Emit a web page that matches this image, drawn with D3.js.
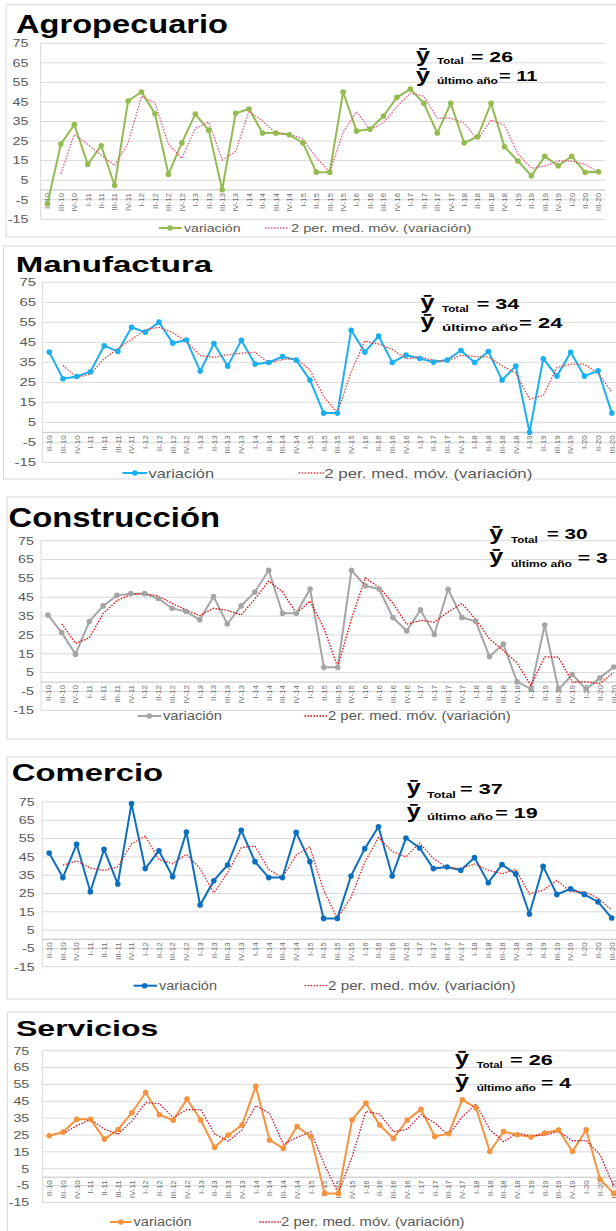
<!DOCTYPE html>
<html>
<head>
<meta charset="utf-8">
<script src="https://cdn.jsdelivr.net/npm/d3@7/dist/d3.min.js"></script>
<style>
  body { margin: 0; background: #fff; }
  svg { display: block; font-family: "Liberation Sans", Arial, sans-serif; }
</style>
</head>
<body>
<svg id="chart" width="616" height="1231"></svg>
<script>
// quarters on the category axis
var quarters = ["II-10", "III-10", "IV-10",
    "I-11", "II-11", "III-11", "IV-11",
    "I-12", "II-12", "III-12", "IV-12",
    "I-13", "II-13", "III-13", "IV-13",
    "I-14", "II-14", "III-14", "IV-14",
    "I-15", "II-15", "III-15", "IV-15",
    "I-16", "II-16", "III-16", "IV-16",
    "I-17", "II-17", "III-17", "IV-17",
    "I-18", "II-18", "III-18", "IV-18",
    "I-19", "II-19", "III-19", "IV-19",
    "I-20", "II-20", "III-20"];

// variación per sector
var agropecuario = [-7, 23.5, 33.4, 13.1, 22.6, 2.3, 45.5, 50.1, 39, 8.1, 24.1,
    38.8, 30.6, 0.1, 39.2, 41.4, 29.1, 29.1, 28.2, 24.1, 9.1, 9.1, 50.1,
    30.1, 31.1, 37.8, 47.4, 51.6, 44.3, 29.1, 44.3, 24.1, 27.2, 44.3, 22.1,
    14.8, 7.3, 17.2, 12.4, 17.2, 9, 9.3];
var manufactura = [40.1, 26.8, 27.9, 30.3, 43.3, 40.4, 52.5, 50, 55.1, 44.6, 46.1,
    30.6, 44.4, 33.1, 46, 34.1, 34.9, 37.9, 36.1, 26.1, 9.6, 9.6, 51,
    40.1, 48.1, 34.9, 38.6, 36.9, 35.1, 36.1, 40.9, 34.9, 40.4, 26.1, 33.1,
    0, 36.8, 28.1, 40, 28.1, 30.8, 9.6];
var construccion = [35.6, 26.2, 14.8, 32.1, 40.4, 46, 46.9, 46.9, 44.3, 39.1, 37.5,
    33, 45.3, 30.8, 40.4, 47.8, 59.3, 36.5, 36.5, 49.4, 7.8, 7.8, 59.3,
    51.1, 49.4, 34.2, 27.1, 38.3, 25.2, 49.2, 34.2, 32.2, 13.5, 20.1, 0.1,
    -3.6, 30.3, -4, 4, -3.8, 2.2, 8];
var comercio = [47.1, 33.7, 51.9, 26, 49.1, 30.2, 74.1, 38.6, 48.4, 34.2, 58.6,
    18.7, 32, 40.6, 59.5, 42.4, 33.7, 33.7, 58.4, 42.4, 11.4, 11.4, 34.6,
    49.5, 61.5, 34.6, 55.3, 49.9, 38.6, 39.5, 37.7, 44.6, 30.9, 40.8, 35.7,
    13.8, 39.8, 24.5, 27.6, 24.5, 20.4, 11.6];
var servicios = [24.6, 26.8, 34.4, 34.3, 22.6, 28.3, 38.2, 50.2, 37, 33.7, 46.3,
    33.9, 17.7, 25, 30.9, 53.9, 22, 17.1, 30.1, 24, -9.6, -9.6, 34.1,
    43.9, 30.9, 23, 33.9, 40.2, 24.2, 25.8, 45.9, 41.1, 15.2, 27, 25.2,
    23.8, 26.2, 28, 15.2, 28.1, -1.2, -9.6];

var sectorNames = ["Agropecuario", "Manufactura", "Construcción", "Comercio", "Servicios"];
var meanTotal = [26, 34, 30, 37, 26];
var meanLastYear = [11, 24, 3, 19, 4];
var yTicks = [75, 65, 55, 45, 35, 25, 15, 5, -5, -15];
var legendLabels = ["variación", "2 per. med. móv. (variación)"];

// where each pasted chart sits on the page
var panels = [
    { values: agropecuario, color: "#93bb4f", ma: "#e0577f",
      box: [6, 4.7, 237], title: [16, 32.5, 26, 212],
      plot: [40.7, 605.3, 43.3, 219.3], tickX: 28.5, tickSize: 11,
      legY: 228, legSize: 11.5, leg: [159, 181.5, 170, 184, 56.5, 265, 289, 291, 180.5],
      note: { yX: 416, y1: 62.3, y2: 81.7, subX: 437, sub1: 64, sub2: 83.5, subW: [26.6, 61],
              eq1: [471, 62, 42], eq2: [499, 81, 38.5] } },
    { values: manufactura, color: "#1aaff0", ma: "#e03c3c",
      box: [3.5, 246, 479], title: [15.7, 271.7, 22, 196.5],
      plot: [42.4, 618.7, 282.3, 462.3], tickX: 36, tickSize: 11.5,
      legY: 473, legSize: 13, leg: [122.6, 147.3, 134.8, 148.5, 65.5, 298.6, 324.2, 324.2, 208.2],
      note: { yX: 420.4, y1: 309, y2: 328.3, subX: 442, sub1: 311.7, sub2: 331, subW: [26.8, 76],
              eq1: [476.7, 309, 42.6], eq2: [519, 327.7, 43.4] } },
    { values: construccion, color: "#a5a5a5", ma: "#e00000",
      box: [7, 497, 739], title: [8.6, 526.7, 27, 211.4],
      plot: [41, 620.6, 540.7, 710.3], tickX: 34, tickSize: 11,
      legY: 716, legSize: 12.5, leg: [137.5, 161, 149.3, 163, 59, 304.5, 328, 328, 182.8],
      note: { yX: 489.3, y1: 540, y2: 563.3, subX: 511, sub1: 543.3, sub2: 566.7, subW: [26.7, 61],
              eq1: [546.7, 539.3, 41], eq2: [577.7, 563.3, 30] } },
    { values: comercio, color: "#0b6fc0", ma: "#e02020",
      box: [7, 757, 999], title: [11.8, 781, 24.5, 151.3],
      plot: [42.3, 618.6, 802, 966.7], tickX: 34.6, tickSize: 11,
      legY: 985.7, legSize: 12.5, leg: [133.6, 157.2, 144.6, 159, 58, 304.5, 328, 328, 187.5],
      note: { yX: 406.7, y1: 794.3, y2: 817.7, subX: 427, sub1: 797.7, sub2: 820.3, subW: [28.8, 66],
              eq1: [460, 794, 42.7], eq2: [495.3, 817.7, 42.4] } },
    { values: servicios, color: "#f5933e", ma: "#c8102e",
      box: [7.3, 1012, 1240], title: [16, 1036, 22.5, 142.3],
      plot: [42.4, 620.6, 1050.7, 1202.5], tickX: 29.3, tickSize: 11,
      legY: 1222, legSize: 12, leg: [110, 131.6, 121, 133.6, 58, 259.3, 281, 281, 183.4],
      note: { yX: 455, y1: 1065, y2: 1088.3, subX: 476.7, sub1: 1068.3, sub2: 1091, subW: [26, 59.3],
              eq1: [510, 1065, 42.7], eq2: [541, 1088.3, 30] } }
];

var svg = d3.select("#chart");

function fit(sel, w) {
    return sel.attr("textLength", w).attr("lengthAdjust", "spacingAndGlyphs");
}

function drawPanel(p, i) {
    var g = svg.append("g");

    // frame of the pasted chart
    g.append("rect")
        .attr("x", p.box[0]).attr("y", p.box[1])
        .attr("width", 700).attr("height", p.box[2] - p.box[1])
        .attr("fill", "none").attr("stroke", "#d9d9d9");

    fit(g.append("text")
        .attr("x", p.title[0]).attr("y", p.title[1])
        .style("font-size", p.title[2] + "px").style("font-weight", "bold")
        .text(sectorNames[i]), p.title[3]);

    var x = d3.scalePoint().domain(quarters).range([p.plot[0], p.plot[1]]).padding(0.5);
    var y = d3.scaleLinear().domain([-15, 75]).range([p.plot[3], p.plot[2]]);

    g.append("g").selectAll("line")
        .data(yTicks)
        .enter().append("line")
        .attr("x1", p.plot[0]).attr("x2", p.plot[1])
        .attr("y1", function(d) { return y(d); })
        .attr("y2", function(d) { return y(d); })
        .attr("stroke", "#d9d9d9");

    g.append("line")
        .attr("x1", p.plot[0]).attr("x2", p.plot[0])
        .attr("y1", y(75)).attr("y2", y(-15))
        .attr("stroke", "#d9d9d9");

    g.append("line")
        .attr("x1", p.plot[0]).attr("x2", p.plot[1])
        .attr("y1", y(0)).attr("y2", y(0))
        .attr("stroke", "#bfbfbf");

    g.append("g").selectAll("text")
        .data(yTicks)
        .enter().append("text")
        .attr("transform", function(d) { return "translate(" + p.tickX + "," + y(d) + ") scale(1.3,1)"; })
        .attr("dy", "0.35em")
        .attr("text-anchor", "end")
        .style("font-size", p.tickSize + "px")
        .style("fill", "#595959")
        .text(function(d) { return d; });

    g.append("g").selectAll("text")
        .data(quarters)
        .enter().append("text")
        .attr("transform", function(d) { return "translate(" + x(d) + "," + (y(0) + 3) + ") rotate(-90)"; })
        .attr("dy", "0.35em")
        .attr("text-anchor", "end")
        .style("font-size", "8px")
        .style("fill", "#6e6e6e")
        .text(function(d) { return d; });

    var rows = quarters.map(function(q, k) { return { q: q, v: p.values[k] }; });

    // Excel trendline "2 per. med. móv.": mean of each pair of quarters
    var avg = d3.pairs(rows).map(function(pr) {
        return { q: pr[1].q, v: (pr[0].v + pr[1].v) / 2 };
    });

    var line = d3.line()
        .x(function(d) { return x(d.q); })
        .y(function(d) { return y(d.v); });

    g.append("path")
        .datum(rows)
        .attr("d", line)
        .attr("fill", "none")
        .attr("stroke", p.color)
        .attr("stroke-width", 2);

    g.append("path")
        .datum(avg)
        .attr("d", line)
        .attr("fill", "none")
        .attr("stroke", p.ma)
        .attr("stroke-width", 1.3)
        .attr("stroke-dasharray", "1.5,1.5");

    g.append("g").selectAll("circle")
        .data(rows)
        .enter().append("circle")
        .attr("cx", function(d) { return x(d.q); })
        .attr("cy", function(d) { return y(d.v); })
        .attr("r", 2.8)
        .attr("fill", p.color);

    // legend
    var L = p.leg;
    g.append("line")
        .attr("x1", L[0]).attr("x2", L[1]).attr("y1", p.legY).attr("y2", p.legY)
        .attr("stroke", p.color).attr("stroke-width", 2);
    g.append("circle")
        .attr("cx", L[2]).attr("cy", p.legY).attr("r", 2.8).attr("fill", p.color);
    fit(g.append("text")
        .attr("x", L[3]).attr("y", p.legY).attr("dy", "0.35em")
        .style("font-size", p.legSize + "px").style("fill", "#595959")
        .text(legendLabels[0]), L[4]);
    g.append("line")
        .attr("x1", L[5]).attr("x2", L[6]).attr("y1", p.legY).attr("y2", p.legY)
        .attr("stroke", p.ma).attr("stroke-width", 1.3).attr("stroke-dasharray", "1.5,1.5");
    fit(g.append("text")
        .attr("x", L[7]).attr("y", p.legY).attr("dy", "0.35em")
        .style("font-size", p.legSize + "px").style("fill", "#595959")
        .text(legendLabels[1]), L[8]);

    // mean notes
    var n = p.note;
    [n.y1, n.y2].forEach(function(by) {
        fit(g.append("text")
            .attr("x", n.yX).attr("y", by)
            .style("font-size", "20px").style("font-weight", "bold")
            .text("\u0233"), 14);
    });
    fit(g.append("text")
        .attr("x", n.subX).attr("y", n.sub1)
        .style("font-size", "9.5px").style("font-weight", "bold")
        .text("Total"), n.subW[0]);
    fit(g.append("text")
        .attr("x", n.subX).attr("y", n.sub2)
        .style("font-size", "9.5px").style("font-weight", "bold")
        .text("último año"), n.subW[1]);
    fit(g.append("text")
        .attr("x", n.eq1[0]).attr("y", n.eq1[1])
        .style("font-size", "15px").style("font-weight", "bold")
        .text("= " + meanTotal[i]), n.eq1[2]);
    fit(g.append("text")
        .attr("x", n.eq2[0]).attr("y", n.eq2[1])
        .style("font-size", "15px").style("font-weight", "bold")
        .text("= " + meanLastYear[i]), n.eq2[2]);
}

panels.forEach(drawPanel);
</script>
</body>
</html>
